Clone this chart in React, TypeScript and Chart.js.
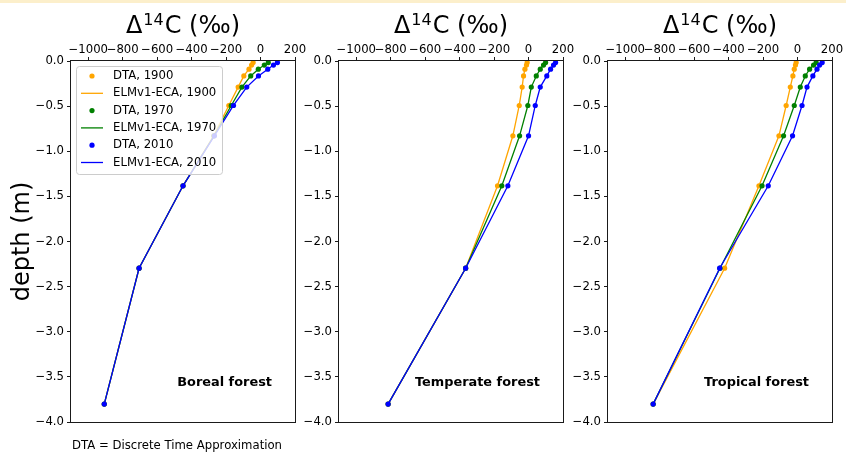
import React, { useEffect, useRef } from 'react';
import { Chart, registerables } from 'chart.js';

Chart.register(...registerables);

// Soil layer interface depths (m), shared by all panels
const depths = [-0.0175, -0.0451, -0.0906, -0.1655, -0.2891, -0.4929, -0.8289, -1.3828, -2.2961, -3.8019];

const years = ['1900', '1970', '2010'];
const yearColors = ['#FFA500', '#008000', '#0000FF'];

const xTickValues = [-1000, -800, -600, -400, -200, 0, 200];
const yTickValues = [0, -0.5, -1.0, -1.5, -2.0, -2.5, -3.0, -3.5, -4.0];

// Boreal forest, Δ14C (‰)
const borealDTA1900 = [-43, -52, -67, -97, -130, -184, -272, -450, -705, -907];
const borealDTA1970 = [45, 22, -13, -57, -108, -170, -270, -450, -705, -907];
const borealDTA2010 = [98, 75, 42, -12, -80, -157, -268, -450, -705, -907];
const borealELM1900 = [-43, -52, -67, -97, -130, -184, -272, -450, -705, -907];
const borealELM1970 = [45, 22, -13, -57, -108, -170, -270, -450, -705, -907];
const borealELM2010 = [98, 75, 42, -12, -80, -157, -268, -450, -705, -907];

// Temperate forest
const temperateDTA1900 = [-8, -12, -21, -29, -37, -54, -91, -180, -365, -815];
const temperateDTA1970 = [99, 87, 68, 45, 16, -4, -52, -155, -365, -815];
const temperateDTA2010 = [157, 145, 128, 106, 68, 39, 0, -120, -365, -815];
const temperateELM1900 = [-8, -12, -21, -29, -37, -54, -91, -180, -365, -815];
const temperateELM1970 = [99, 87, 68, 45, 16, -4, -52, -155, -365, -815];
const temperateELM2010 = [157, 145, 128, 106, 68, 39, 0, -120, -365, -815];

// Tropical forest
const tropicalDTA1900 = [-8, -12, -19, -27, -42, -66, -108, -224, -423, -838];
const tropicalDTA1970 = [108, 93, 70, 45, 16, -19, -81, -206, -450, -838];
const tropicalDTA2010 = [143, 128, 113, 89, 55, 26, -29, -170, -452, -838];
const tropicalELM1900 = [-8, -12, -19, -27, -42, -66, -108, -224, -423, -838];
const tropicalELM1970 = [108, 93, 70, 45, 16, -19, -81, -206, -450, -838];
const tropicalELM2010 = [143, 128, 113, 89, 55, 26, -29, -170, -452, -838];

const W = 846;
const H = 452;
const FONT = '"DejaVu Sans", "Liberation Sans", sans-serif';

const panels = [
  {
    key: 'boreal',
    label: 'Boreal forest',
    left: 71,
    yw: 71,
    dta: [borealDTA1900, borealDTA1970, borealDTA2010],
    elm: [borealELM1900, borealELM1970, borealELM2010],
    yTitle: true,
    legend: true,
  },
  {
    key: 'temperate',
    label: 'Temperate forest',
    left: 339,
    yw: 40,
    dta: [temperateDTA1900, temperateDTA1970, temperateDTA2010],
    elm: [temperateELM1900, temperateELM1970, temperateELM2010],
    yTitle: false,
    legend: false,
  },
  {
    key: 'tropical',
    label: 'Tropical forest',
    left: 608,
    yw: 40,
    dta: [tropicalDTA1900, tropicalDTA1970, tropicalDTA2010],
    elm: [tropicalELM1900, tropicalELM1970, tropicalELM2010],
    yTitle: false,
    legend: false,
  },
];

const PANEL_W = 224;
const TOP = 61;
const BOTTOM = 422;

function makeDecor(panel: any) {
  return {
    id: 'decor_' + panel.key,
    afterDraw(chart: any) {
      const { ctx, chartArea: a } = chart;
      ctx.save();
      // frame (spines)
      ctx.strokeStyle = '#1a1a1a';
      ctx.lineWidth = 1;
      ctx.strokeRect(a.left - 0.5, a.top - 0.5, a.right - a.left + 1, a.bottom - a.top + 1);

      // title  Δ14C (‰)
      const big = '24px ' + FONT;
      const small = '16px ' + FONT;
      ctx.fillStyle = '#000';
      ctx.textAlign = 'left';
      ctx.textBaseline = 'alphabetic';
      ctx.font = big;
      const w1 = ctx.measureText('\u0394').width;
      const w3 = ctx.measureText('C (\u2030)').width;
      ctx.font = small;
      const w2 = ctx.measureText('14').width;
      const gap = 1;
      const total = w1 + gap + w2 + gap + w3;
      let x = (a.left + a.right) / 2 - total / 2;
      ctx.font = big;
      ctx.fillText('\u0394', x, 33);
      x += w1 + gap;
      ctx.font = small;
      ctx.fillText('14', x, 25);
      x += w2 + gap;
      ctx.font = big;
      ctx.fillText('C (\u2030)', x, 33);

      // panel label
      ctx.font = 'bold 12.9px ' + FONT;
      ctx.textAlign = 'right';
      ctx.fillText(panel.label, a.right - 23, 386);

      if (panel.legend) {
        const bx = a.left + 5;
        const by = a.top + 5;
        const bw = 146;
        const bh = 108;
        ctx.beginPath();
        (ctx as any).roundRect(bx + 0.5, by + 0.5, bw, bh, 3);
        ctx.fillStyle = 'rgba(255,255,255,0.8)';
        ctx.fill();
        ctx.strokeStyle = '#cccccc';
        ctx.lineWidth = 1;
        ctx.stroke();
        ctx.font = '11.7px ' + FONT;
        ctx.textAlign = 'left';
        ctx.textBaseline = 'middle';
        chart.data.datasets.forEach((ds: any, i: number) => {
          const y = by + 10 + i * 17.3;
          if (ds.showLine) {
            ctx.beginPath();
            ctx.moveTo(bx + 5, y);
            ctx.lineTo(bx + 27, y);
            ctx.strokeStyle = ds.borderColor;
            ctx.lineWidth = 1.3;
            ctx.stroke();
          } else {
            ctx.beginPath();
            ctx.arc(bx + 16, y, 2.6, 0, Math.PI * 2);
            ctx.fillStyle = ds.backgroundColor;
            ctx.fill();
          }
          ctx.fillStyle = '#000';
          ctx.fillText(ds.label, bx + 37, y);
        });

        // footnote
        ctx.textBaseline = 'alphabetic';
        ctx.font = '11.7px ' + FONT;
        ctx.fillStyle = '#000';
        ctx.fillText('DTA = Discrete Time Approximation', 72, 449);
      }
      ctx.restore();
    },
  };
}

function buildConfig(panel: any) {
  const datasets: any[] = [];
  years.forEach((yr, k) => {
    const c = yearColors[k];
    datasets.push({
      label: 'DTA, ' + yr,
      data: panel.dta[k].map((v: number, j: number) => ({ x: v, y: depths[j] })),
      showLine: false,
      pointRadius: 2.6,
      pointHoverRadius: 2.6,
      pointBorderWidth: 0,
      backgroundColor: c,
      borderColor: c,
      pointBackgroundColor: c,
    });
    datasets.push({
      label: 'ELMv1-ECA, ' + yr,
      data: panel.elm[k].map((v: number, j: number) => ({ x: v, y: depths[j] })),
      showLine: true,
      pointRadius: 0,
      pointHoverRadius: 0,
      borderWidth: 1.3,
      backgroundColor: c,
      borderColor: c,
      fill: false,
      tension: 0,
    });
  });
  datasets.forEach((d, i) => (d.order = datasets.length - i));

  const tickFont = { family: FONT, size: 11.7 };
  return {
    type: 'scatter',
    data: { datasets },
    options: {
      animation: false,
      responsive: false,
      devicePixelRatio: 1,
      events: [],
      layout: {
        padding: {
          left: panel.left - panel.yw,
          top: 0,
          right: W - (panel.left + PANEL_W),
          bottom: H - BOTTOM,
        },
      },
      plugins: {
        legend: { display: false },
        tooltip: { enabled: false },
        title: { display: false },
      },
      scales: {
        x: {
          type: 'linear',
          position: 'top',
          min: -1100,
          max: 200,
          afterFit: (s: any) => {
            s.height = TOP;
          },
          afterBuildTicks: (s: any) => {
            s.ticks = xTickValues.map((v) => ({ value: v }));
          },
          border: { display: false },
          grid: {
            drawOnChartArea: false,
            drawTicks: true,
            tickLength: 4,
            color: '#1a1a1a',
            tickColor: '#1a1a1a',
          },
          ticks: {
            autoSkip: false,
            maxRotation: 0,
            minRotation: 0,
            padding: 0,
            color: '#000',
            font: tickFont,
            callback: (v: any) => (v < 0 ? '\u2212' + Math.abs(v) : String(v)),
          },
        },
        y: {
          type: 'linear',
          position: 'left',
          min: -4,
          max: 0,
          afterFit: (s: any) => {
            s.width = panel.yw;
          },
          afterBuildTicks: (s: any) => {
            s.ticks = yTickValues.map((v) => ({ value: v }));
          },
          border: { display: false },
          grid: {
            drawOnChartArea: false,
            drawTicks: true,
            tickLength: 4,
            color: '#1a1a1a',
            tickColor: '#1a1a1a',
          },
          title: {
            display: panel.yTitle,
            text: 'depth (m)',
            color: '#000',
            font: { family: FONT, size: 24 },
            padding: { top: 8, bottom: 0 },
          },
          ticks: {
            autoSkip: false,
            padding: 3,
            color: '#000',
            font: tickFont,
            callback: (v: any) => (v === 0 ? '0.0' : '\u2212' + Math.abs(v).toFixed(1)),
          },
        },
      },
    },
    plugins: [makeDecor(panel)],
  };
}

function Panel({ panel }: { panel: any }) {
  const ref = useRef<HTMLCanvasElement | null>(null);
  useEffect(() => {
    if (!ref.current) return;
    const chart = new Chart(ref.current, buildConfig(panel) as any);
    return () => chart.destroy();
  }, [panel]);
  return (
    <canvas
      ref={ref}
      width={W}
      height={H}
      style={{ position: 'absolute', left: 0, top: 0, width: W, height: H }}
    />
  );
}

export default function App() {
  return (
    <div
      style={{
        position: 'fixed',
        left: 0,
        top: 0,
        width: W,
        height: H,
        background: '#ffffff',
        overflow: 'hidden',
      }}
    >
      <div style={{ position: 'absolute', left: 0, top: 0, width: W, height: 3, background: '#fcefcb' }} />
      {panels.map((p) => (
        <Panel key={p.key} panel={p} />
      ))}
    </div>
  );
}
